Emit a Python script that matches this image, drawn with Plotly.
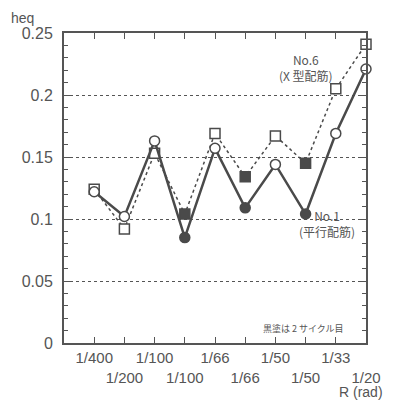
import plotly.graph_objects as go

x_pos = [1, 2, 3, 4, 5, 6, 7, 8, 9, 10]
tick_labels = ["1/400", "1/200", "1/100", "1/100", "1/66", "1/66", "1/50", "1/50", "1/33", "1/20"]
no6_heq = [0.124, 0.092, 0.153, 0.104, 0.169, 0.134, 0.167, 0.145, 0.205, 0.241]
no1_heq = [0.122, 0.102, 0.163, 0.085, 0.157, 0.109, 0.144, 0.104, 0.169, 0.221]
second_cycle = [False, False, False, True, False, True, False, True, False, False]

INK = "#4a4a4a"
fills = [INK if s else "white" for s in second_cycle]
tick_text = [("<br>" + t) if i % 2 == 1 else t for i, t in enumerate(tick_labels)]

fig = go.Figure()
fig.add_trace(go.Scatter(
    x=x_pos, y=no6_heq, mode="lines+markers",
    line=dict(color=INK, width=1.5, dash="dot"),
    marker=dict(symbol="square", size=10, color=fills, line=dict(color=INK, width=1.5)),
    cliponaxis=False, showlegend=False))
fig.add_trace(go.Scatter(
    x=x_pos, y=no1_heq, mode="lines+markers",
    line=dict(color=INK, width=2.5),
    marker=dict(symbol="circle", size=10, color=fills, line=dict(color=INK, width=1.5)),
    cliponaxis=False, showlegend=False))

font_lat = "Liberation Sans, Arial, sans-serif"
font_jp = "Noto Sans CJK JP, sans-serif"

# page body has an 8px default margin: shrink figure and margins to compensate
fig.update_layout(
    width=386, height=393,
    margin=dict(l=56, r=28, t=25, b=58, autoexpand=False),
    paper_bgcolor="white", plot_bgcolor="white",
    font=dict(family=font_lat, color="#555555"),
    xaxis=dict(range=[0, 10], tickvals=x_pos, ticktext=tick_text, tickangle=0, automargin=False,
               ticks="inside", ticklen=6, tickcolor="#555", tickwidth=1,
               showline=True, linecolor="#555", linewidth=2, mirror="ticks",
               showgrid=False, zeroline=False, ticklabelstandoff=0,
               tickfont=dict(size=15, family=font_lat, color="#555")),
    yaxis=dict(range=[0, 0.25], dtick=0.05, tick0=0, automargin=False,
               ticks="inside", ticklen=6, tickcolor="#555", tickwidth=1,
               showline=True, linecolor="#555", linewidth=2, mirror="ticks",
               showgrid=True, gridcolor="#555", griddash="dot", gridwidth=1,
               zeroline=False, ticklabelstandoff=6,
               minor=dict(dtick=0.01, ticks="inside", ticklen=4, tickcolor="#555", showgrid=False),
               tickfont=dict(size=16, family=font_lat, color="#555")),
    annotations=[
        dict(text="heq", xref="paper", yref="paper", x=-0.136, y=1.048, showarrow=False,
             xanchor="center", yanchor="middle",
             font=dict(size=14, family=font_lat, color="#555")),
        dict(text="R (rad)", xref="paper", yref="paper", x=0.983, y=-0.158, showarrow=False,
             xanchor="center", yanchor="middle",
             font=dict(size=14, family=font_lat, color="#555")),
        dict(text="No.6<br>(X 型配筋)", x=8.0, y=0.222, showarrow=False,
             font=dict(size=12, family=font_jp, color="#555")),
        dict(text="No.1<br>(平行配筋)", x=8.72, y=0.096, showarrow=False,
             font=dict(size=12, family=font_jp, color="#555")),
        dict(text="黒塗は 2 サイクル目", x=7.92, y=0.0113, showarrow=False,
             font=dict(size=9, family=font_jp, color="#555")),
    ],
)

fig.write_html("out.html")
